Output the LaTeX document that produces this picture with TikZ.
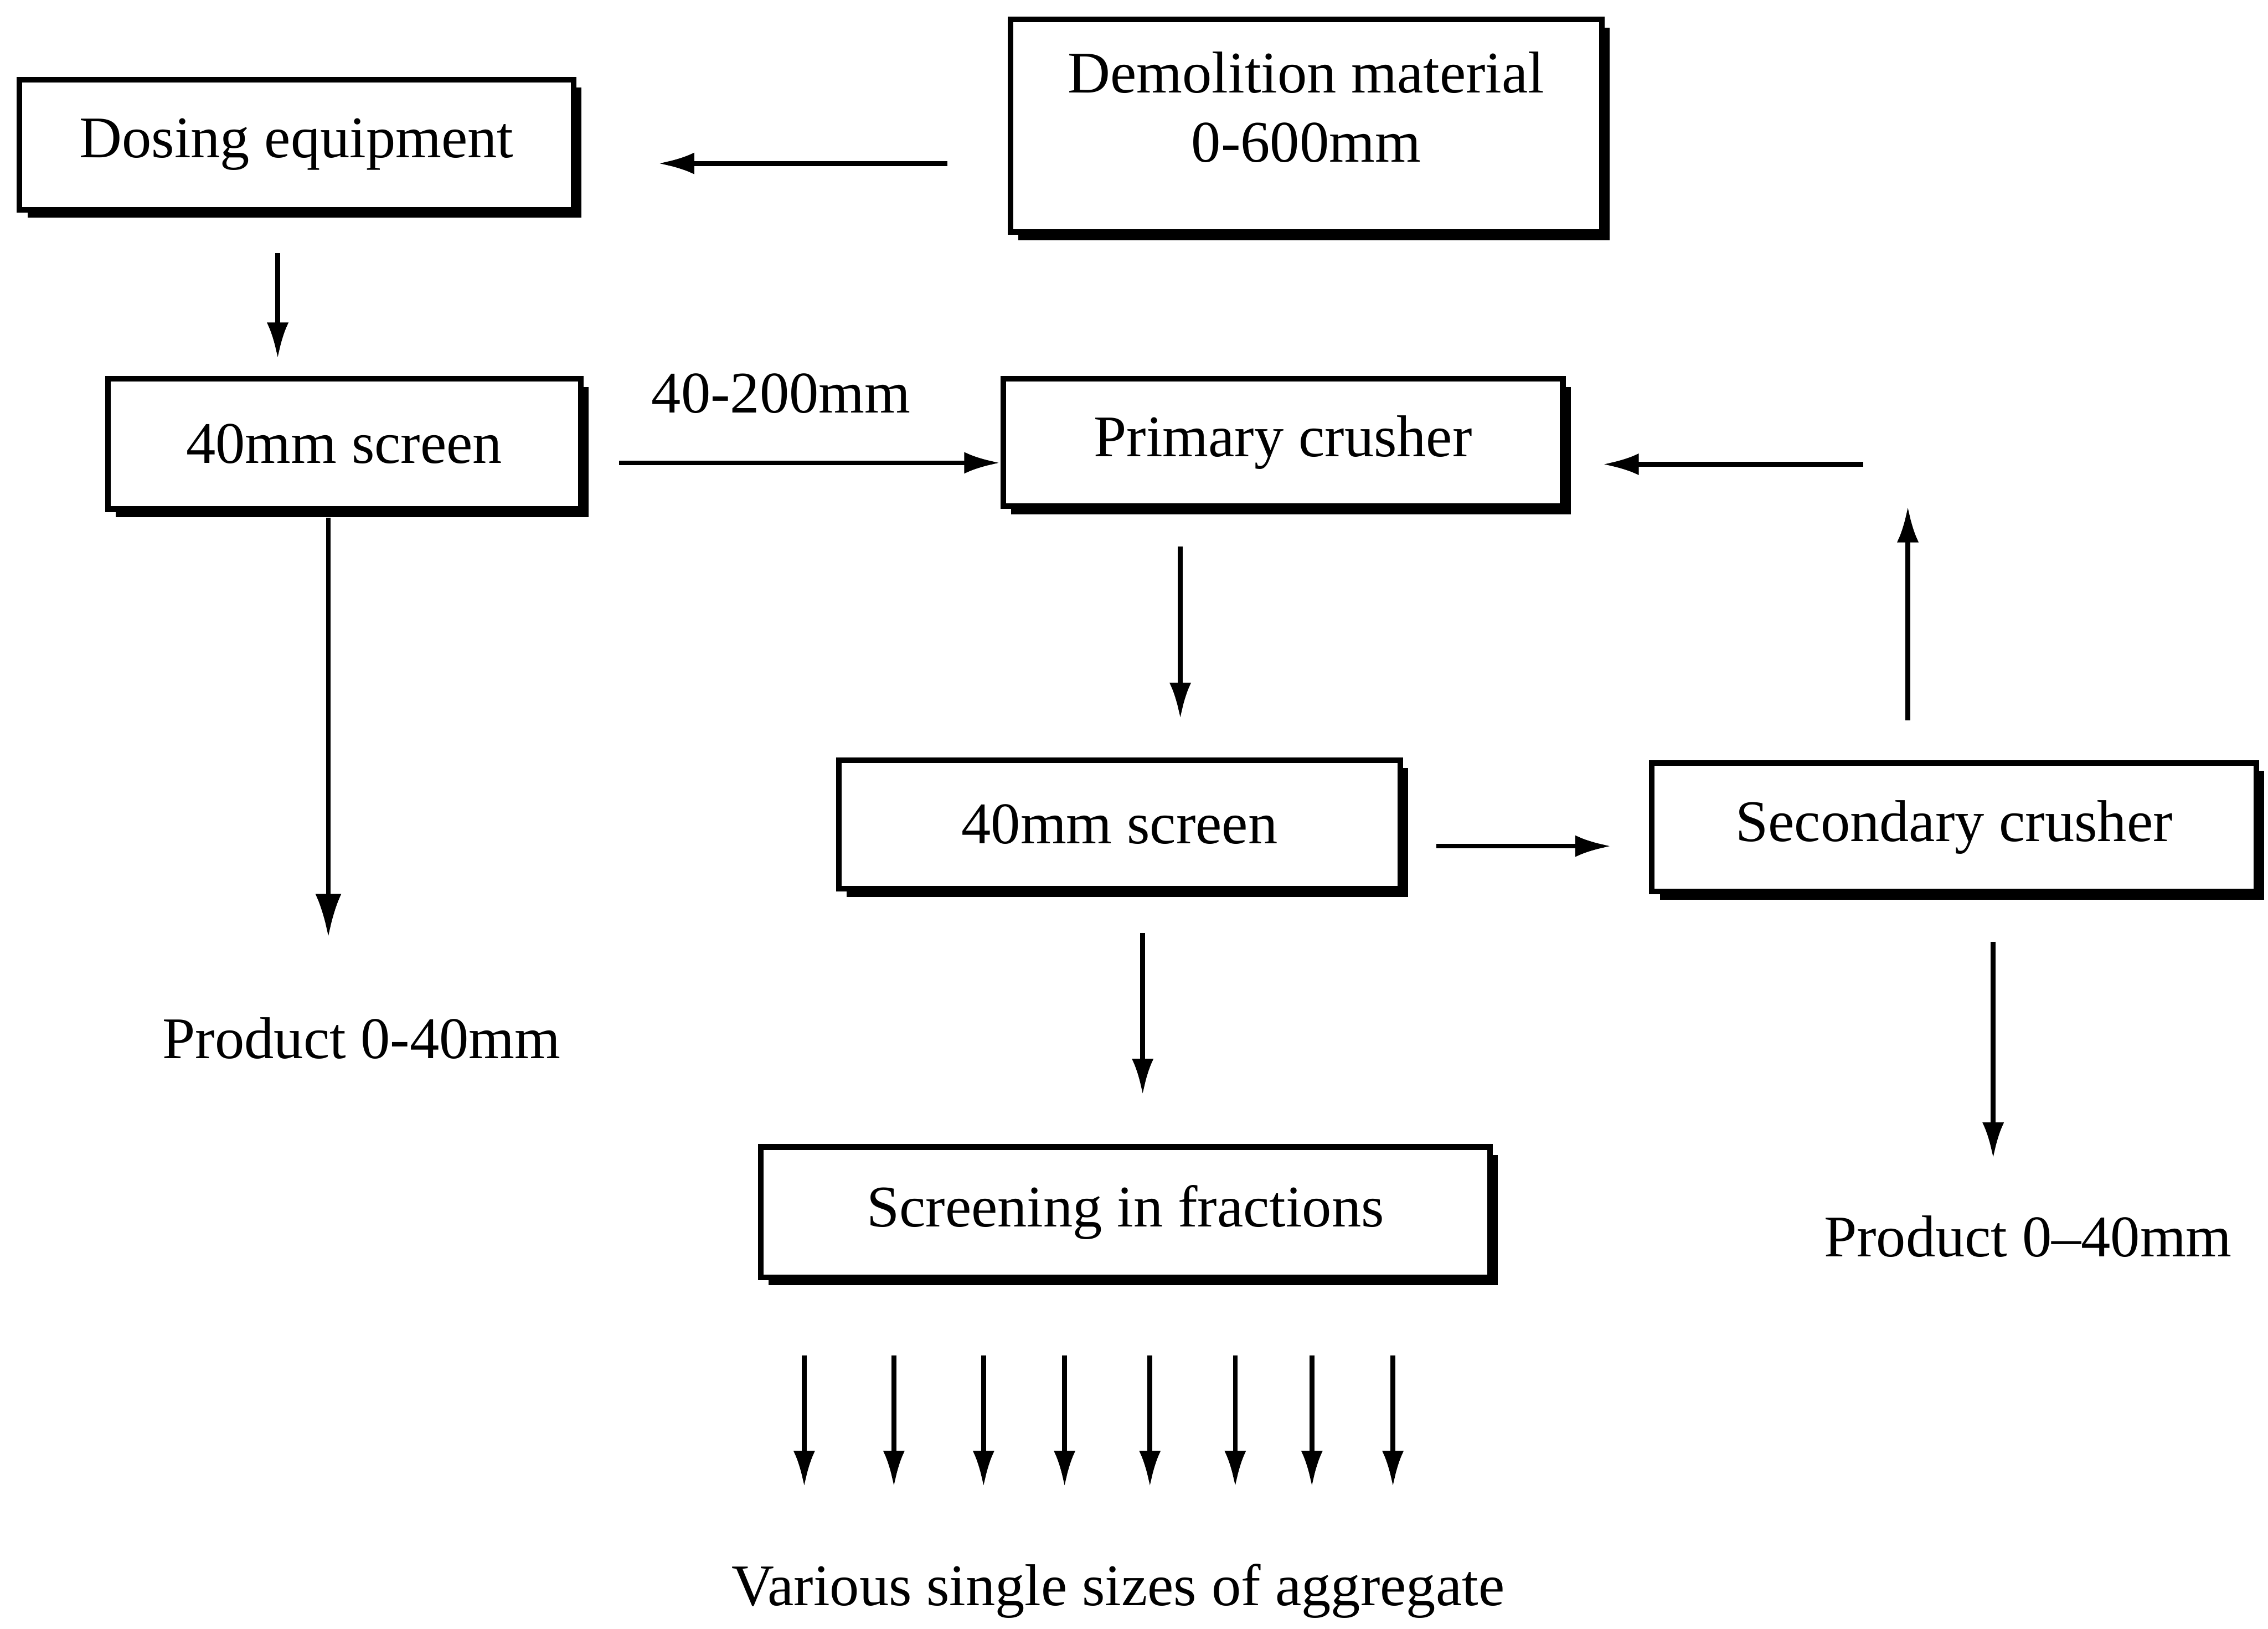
\documentclass[tikz,border=0pt]{standalone}
\usepackage{fontspec}
\setmainfont{Liberation Serif}
\usetikzlibrary{arrows.meta,shadows}

\begin{document}
\begin{tikzpicture}[x=0.1mm,y=-0.1mm,
  >={Latex[length=2.5mm,width=1.5mm]},
  flow/.style={->,line width=0.95pt},
  big flow/.style={flow,>={Latex[length=3mm,width=1.8mm]}},
  proc box/.style={rectangle,draw,line width=1.1pt,fill=white,align=center,
    drop shadow={shadow xshift=0.55mm,shadow yshift=-0.55mm,fill=black,opacity=1},
    font=\fontsize{11.6}{13.6}\selectfont},
  plain text/.style={font=\fontsize{11.6}{13.6}\selectfont}]

  \useasboundingbox (0,0) rectangle (1568,1126);

  % boxes
  \node[proc box,minimum width=38.3mm,minimum height=9mm] (dosing) at (205,100) {Dosing equipment};
  \node[proc box,minimum width=40.9mm,minimum height=14.7mm,text depth=2.6mm] (demol) at (903,87) {Demolition material\\0-600mm};
  \node[proc box,minimum width=32.7mm,minimum height=9mm] (screenA) at (238,307) {40mm screen};
  \node[proc box,minimum width=38.7mm,minimum height=8.8mm] (primary) at (887,306) {Primary crusher};
  \node[proc box,minimum width=38.8mm,minimum height=8.9mm] (screenB) at (774,570) {40mm screen};
  \node[proc box,minimum width=41.8mm,minimum height=8.9mm] (secondary) at (1351,572) {Secondary crusher};
  \node[proc box,minimum width=50.4mm,minimum height=9mm] (fractions) at (778,838) {Screening in fractions};

  % free texts
  \node[plain text] (range) at (540,272) {40-200mm};
  \node[plain text] (prodA) at (250,718) {Product 0-40mm};
  \node[plain text] (prodB) at (1402,855) {Product 0--40mm};
  \node[plain text] (sizes) at (773,1100) {Various single sizes of aggregate};

  % arrow ends
  \coordinate (feedS) at (655,113);
  \coordinate (feedE) at (455,113);
  \coordinate (doseS) at (192,175);
  \coordinate (doseE) at (192,248);
  \coordinate (prodAS) at (227,358);
  \coordinate (prodAE) at (227,648);
  \coordinate (coarseS) at (428,320);
  \coordinate (primS) at (816,378);
  \coordinate (primE) at (816,497);
  \coordinate (backS) at (1288,321);
  \coordinate (backE) at (1108,321);
  \coordinate (upS) at (1319,498);
  \coordinate (upE) at (1319,350);
  \coordinate (overS) at (993,585);
  \coordinate (overE) at (1114,585);
  \coordinate (underS) at (790,645);
  \coordinate (underE) at (790,757);
  \coordinate (prodBS) at (1378,651);
  \coordinate (prodBE) at (1378,801);

  \draw[flow] (feedS) -- (feedE);
  \draw[flow] (doseS) -- (doseE);
  \draw[big flow] (prodAS) -- (prodAE);
  \draw[flow] (coarseS) -- (coarseS -| primary.west);
  \draw[flow] (primS) -- (primE);
  \draw[flow] (backS) -- (backE);
  \draw[flow] (upS) -- (upE);
  \draw[flow] (overS) -- (overE);
  \draw[flow] (underS) -- (underE);
  \draw[flow] (prodBS) -- (prodBE);

  % single sizes
  \foreach \x in {556,618,680,736,795,854,907,963} {
    \coordinate (top\x) at (\x,937);
    \coordinate (bot\x) at (\x,1028);
    \draw[flow] (top\x) -- (bot\x);
  }
\end{tikzpicture}
\end{document}
